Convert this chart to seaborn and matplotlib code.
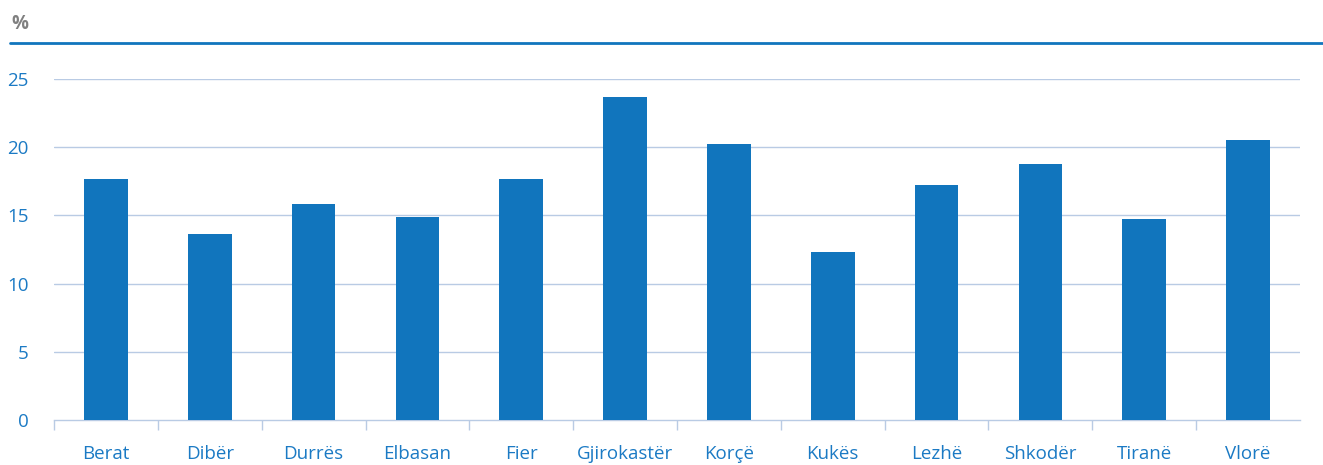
import numpy as np
import pandas as pd
import seaborn as sns
import matplotlib.pyplot as plt

# Données
qarqet = ["Berat", "Dibër", "Durrës", "Elbasan", "Fier", "Gjirokastër",
          "Korçë", "Kukës", "Lezhë", "Shkodër", "Tiranë", "Vlorë"]
vlerat = [17.7, 13.6, 15.8, 14.9, 17.7, 23.7, 20.2, 12.3, 17.2, 18.8, 14.7, 20.5]
yticks = [0, 5, 10, 15, 20, 25]

df = pd.DataFrame({"qarku": qarqet, "vlera": vlerat})

sns.set_style("white")
plt.rcParams['font.family'] = ['Open Sans', 'DejaVu Sans']

blu = "#1175bd"
txt = "#1b7ac4"
grid = "#b9cbe4"

fig = plt.figure(figsize=(13.23, 4.65), dpi=100)
ax = fig.add_axes([54 / 1323, 1 - 420 / 465, (1300 - 54) / 1323, (420 - 79) / 465])

sns.barplot(data=df, x="qarku", y="vlera", color=blu, width=0.42,
            saturation=1, linewidth=0, ax=ax, zorder=3)

ax.set_ylim(0, 25)
ax.set_xlim(-0.5, len(qarqet) - 0.5)
ax.set_yticks(yticks)
for t in yticks[1:]:
    ax.axhline(t, color=grid, lw=1.0, zorder=1)

for s in ["top", "right", "left"]:
    ax.spines[s].set_visible(False)
ax.spines["bottom"].set_color(grid)
ax.spines["bottom"].set_linewidth(1.0)

ax.tick_params(axis="y", length=0, labelsize=13.5, labelcolor=txt, pad=18)
ax.tick_params(axis="x", which="major", length=0, labelsize=13.5, labelcolor=txt, pad=18)
# vijëzat ndarëse mes kategorive (pa atë në fund djathtas)
ax.set_xticks(np.arange(-0.5, len(qarqet) - 1, 1), minor=True)
ax.tick_params(axis="x", which="minor", bottom=True, length=7, color=grid,
               width=1, direction="out")
ax.set_xlabel("")
ax.set_ylabel("")

# vija e sipërme dhe shenja %
fig.add_artist(plt.Line2D([10 / 1323, 1], [1 - 43 / 465] * 2, color=blu, lw=2,
                          transform=fig.transFigure))
fig.text(11 / 1323, 1 - 24 / 465, "%", color="#808080", fontsize=13.5,
         fontweight="bold", va="center", ha="left")

fig.savefig("out.png", dpi=100)
